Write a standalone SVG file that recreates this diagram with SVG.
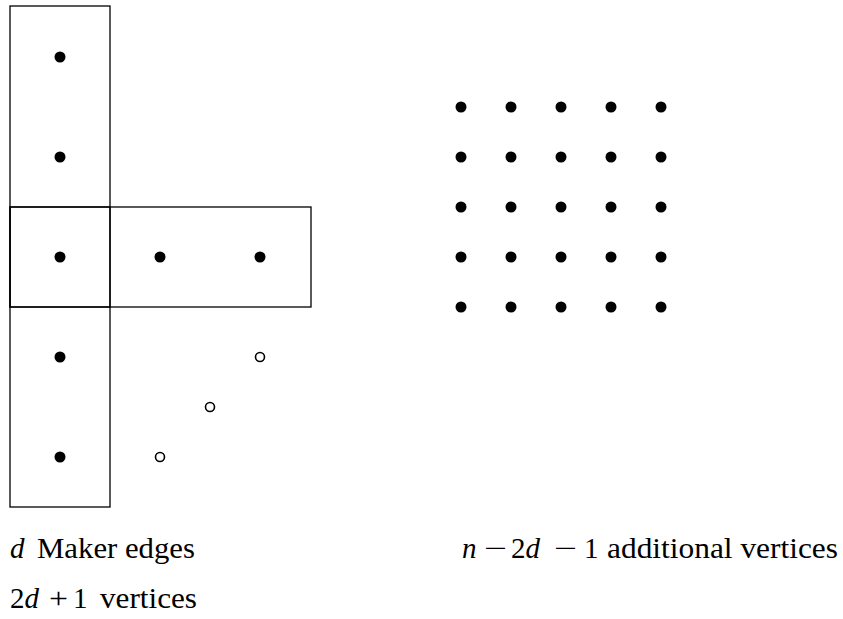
<svg xmlns="http://www.w3.org/2000/svg" width="843" height="619" viewBox="0 0 843 619">
<style>
.box{fill:none;stroke:#000;stroke-width:1.3}
.v{fill:#000}
.h{fill:#fff;stroke:#000;stroke-width:1.6}
.t{font-family:"Liberation Serif","DejaVu Serif",serif;font-size:29px;fill:#000}
.i{font-style:italic}
</style>
<rect width="843" height="619" fill="#fff"/>
<g id="edges">
<rect id="edge-vertical-top" class="box" x="10" y="6" width="100" height="301"/>
<rect id="edge-vertical-bottom" class="box" x="10" y="207" width="100" height="300"/>
<rect id="edge-horizontal" class="box" x="10" y="207" width="301" height="100"/>
</g>
<g id="maker-vertices">
<circle class="v" cx="60" cy="57" r="5.5"/>
<circle class="v" cx="60" cy="157" r="5.5"/>
<circle class="v" cx="60" cy="257" r="5.5"/>
<circle class="v" cx="60" cy="357" r="5.5"/>
<circle class="v" cx="60" cy="457" r="5.5"/>
<circle class="v" cx="160" cy="257" r="5.5"/>
<circle class="v" cx="260" cy="257" r="5.5"/>
</g>
<g id="ellipsis">
<circle class="h" cx="260" cy="357" r="4.5"/>
<circle class="h" cx="210" cy="407" r="4.5"/>
<circle class="h" cx="160" cy="457" r="4.5"/>
</g>
<g id="additional-vertices">
<circle class="v" cx="461" cy="107" r="5.5"/><circle class="v" cx="511" cy="107" r="5.5"/><circle class="v" cx="561" cy="107" r="5.5"/><circle class="v" cx="611" cy="107" r="5.5"/><circle class="v" cx="661" cy="107" r="5.5"/>
<circle class="v" cx="461" cy="157" r="5.5"/><circle class="v" cx="511" cy="157" r="5.5"/><circle class="v" cx="561" cy="157" r="5.5"/><circle class="v" cx="611" cy="157" r="5.5"/><circle class="v" cx="661" cy="157" r="5.5"/>
<circle class="v" cx="461" cy="207" r="5.5"/><circle class="v" cx="511" cy="207" r="5.5"/><circle class="v" cx="561" cy="207" r="5.5"/><circle class="v" cx="611" cy="207" r="5.5"/><circle class="v" cx="661" cy="207" r="5.5"/>
<circle class="v" cx="461" cy="257" r="5.5"/><circle class="v" cx="511" cy="257" r="5.5"/><circle class="v" cx="561" cy="257" r="5.5"/><circle class="v" cx="611" cy="257" r="5.5"/><circle class="v" cx="661" cy="257" r="5.5"/>
<circle class="v" cx="461" cy="307" r="5.5"/><circle class="v" cx="511" cy="307" r="5.5"/><circle class="v" cx="561" cy="307" r="5.5"/><circle class="v" cx="611" cy="307" r="5.5"/><circle class="v" cx="661" cy="307" r="5.5"/>
</g>
<g id="labels">
<text class="t" y="558"><tspan class="i" x="10">d</tspan> <tspan x="37" textLength="158" lengthAdjust="spacingAndGlyphs">Maker edges</tspan></text>
<text class="t" y="608"><tspan x="10">2</tspan><tspan class="i">d</tspan> <tspan x="49" textLength="19" lengthAdjust="spacingAndGlyphs">+</tspan> <tspan x="73">1</tspan> <tspan x="100" textLength="97" lengthAdjust="spacingAndGlyphs">vertices</tspan></text>
<text class="t" y="558"><tspan class="i" x="462">n</tspan> <tspan x="484" textLength="23" lengthAdjust="spacingAndGlyphs">−</tspan> <tspan x="511">2</tspan><tspan class="i">d</tspan> <tspan x="554" textLength="23" lengthAdjust="spacingAndGlyphs">−</tspan> <tspan x="584">1</tspan> <tspan x="607" textLength="231" lengthAdjust="spacingAndGlyphs">additional vertices</tspan></text>
</g>
</svg>
